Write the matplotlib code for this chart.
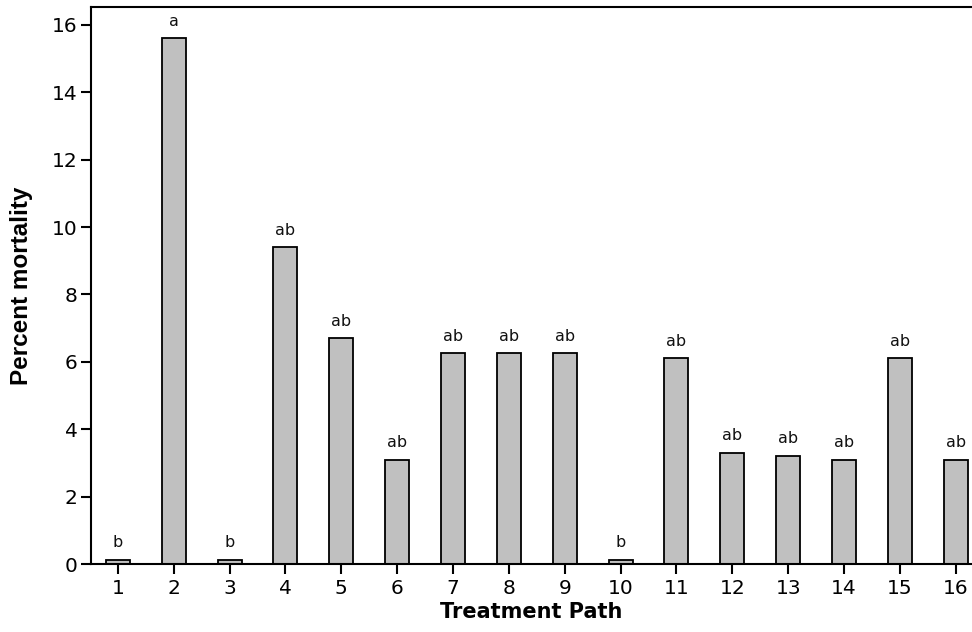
import matplotlib
matplotlib.use("Agg")
import matplotlib.pyplot as plt

paths = list(range(1, 17))
mortality = [0.12, 15.6, 0.12, 9.4, 6.7, 3.1, 6.25, 6.25, 6.25, 0.12, 6.1, 3.3, 3.2, 3.1, 6.1, 3.1]
groups = ["b", "a", "b", "ab", "ab", "ab", "ab", "ab", "ab", "b", "ab", "ab", "ab", "ab", "ab", "ab"]
y_ticks = [0, 2, 4, 6, 8, 10, 12, 14, 16]

fig = plt.figure(figsize=(9.72, 6.32), dpi=100)
ax = fig.add_axes([91 / 972, 68 / 632, 1 - 91 / 972, 557 / 632])

ax.bar(paths, mortality, width=0.43, color="#c0c0c0", edgecolor="black", linewidth=1.3)

# significance letters above each bar
for x, y, g in zip(paths, mortality, groups):
    ax.annotate(g, (x, y), xytext=(0, 7), textcoords="offset points",
                ha="center", va="bottom", fontsize=11.5, color="#111111")

ax.set_xlim(0.52, 16.29)
ax.set_ylim(0, 16.53)
ax.set_xticks(paths)
ax.set_yticks(y_ticks)

ax.spines["right"].set_visible(False)
for s in ["left", "bottom", "top"]:
    ax.spines[s].set_linewidth(1.5)

ax.tick_params(axis="both", direction="out", length=7, width=1.5, labelsize=14.5)
ax.tick_params(axis="x", pad=4)
ax.tick_params(axis="y", pad=2.5)

ax.set_xlabel("Treatment Path", fontsize=15, fontweight="bold", labelpad=3)
ax.set_ylabel("Percent mortality", fontsize=17.5, fontweight="bold",
              family="Liberation Sans", labelpad=14)

fig.savefig("out.png", dpi=100)
